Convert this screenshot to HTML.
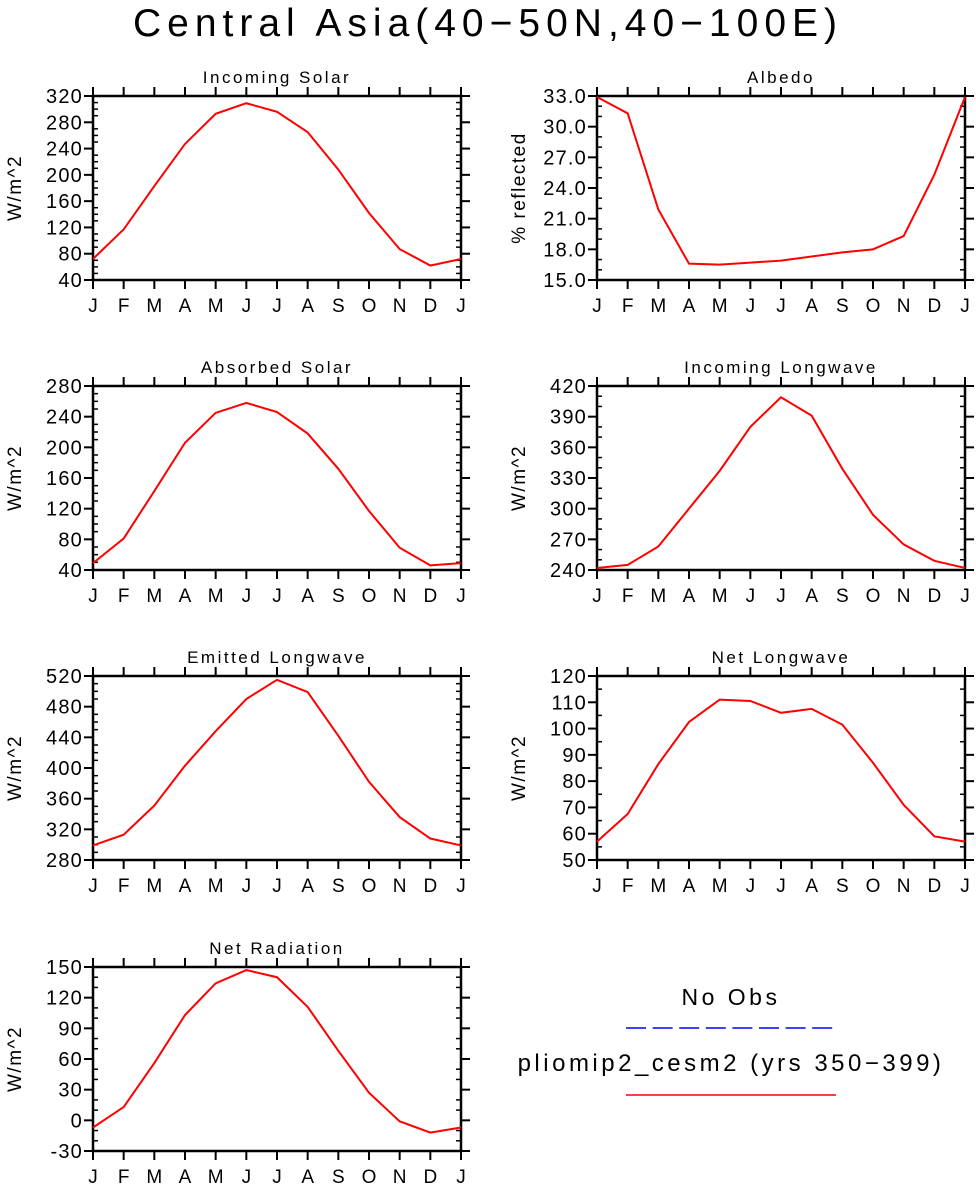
<!DOCTYPE html>
<html><head><meta charset="utf-8"><style>
html,body{margin:0;padding:0;background:#fff;}
svg{display:block;font-family:"Liberation Sans",sans-serif;}
</style></head><body>
<svg id="chart" width="976" height="1189" viewBox="0 0 976 1189">
<text x="488" y="36" text-anchor="middle" font-size="39" letter-spacing="6" fill="#000">Central Asia(40−50N,40−100E)</text>
<g>
<text x="731" y="1005" text-anchor="middle" font-size="23" letter-spacing="3.5">No Obs</text>
<line x1="626" y1="1028" x2="836" y2="1028" stroke="#0000ff" stroke-width="1.5" stroke-dasharray="20,6.6"/>
<text x="731" y="1071" text-anchor="middle" font-size="24" letter-spacing="3.5">pliomip2_cesm2 (yrs 350−399)</text>
<line x1="626" y1="1095" x2="836" y2="1095" stroke="#ff0000" stroke-width="1.5"/>
</g>
</svg>
<script>
const months = ["J","F","M","A","M","J","J","A","S","O","N","D","J"];
const incomingSolar = [72,117,183,247,293,309,296,265,208,142,87,62,72];
const albedo = [32.9,31.3,21.9,16.6,16.5,16.7,16.9,17.3,17.7,18.0,19.3,25.3,32.9];
const absorbedSolar = [49,81,143,206,245,258,246,218,172,117,69,46,49];
const incomingLW = [242,245,263,300,337,380,409,391,339,294,265,249,242];
const emittedLW = [299,313,351,403,448,490,515,499,442,382,336,308,299];
const netLW = [57,67.5,86.5,102.5,111,110.5,106,107.5,101.5,87,71,59,57];
const netRad = [-7,13,56,103,134,147,140,111,68,27,-1,-12,-7];
const ticksIS = [40,80,120,160,200,240,280,320];
const ticksAlb = [15,18,21,24,27,30,33];
const ticksAS = [40,80,120,160,200,240,280];
const ticksILW = [240,270,300,330,360,390,420];
const ticksELW = [280,320,360,400,440,480,520];
const ticksNLW = [50,60,70,80,90,100,110,120];
const ticksNR = [-30,0,30,60,90,120,150];

const NS="http://www.w3.org/2000/svg";
const svg=document.getElementById('chart');
function mk(tag,attrs,parent){const e=document.createElementNS(NS,tag);for(const k in attrs)e.setAttribute(k,attrs[k]);(parent||svg).appendChild(e);return e;}

function panel(name,title,ylab,x0,y0,vals,ticks,dec,minor){
  const w=368,h=184;
  const g=mk('g',{});
  
  
  const lo=ticks[0],hi=ticks[ticks.length-1];
  const xs=i=>x0+i*w/12;
  const ys=v=>y0+h-(v-lo)/(hi-lo)*h;
  const t=mk('text',{x:x0+w/2,y:y0-13,'text-anchor':'middle','font-size':17,'letter-spacing':'2.5'},g);
  t.textContent=title;
  
  
  const yl=mk('text',{x:0,y:0,'text-anchor':'middle','font-size':19,'letter-spacing':'1.5',transform:`translate(${x0-72},${y0+h/2}) rotate(-90)`},g);
  yl.textContent=ylab;
  
  
  ticks.forEach(v=>{
    const y=ys(v);
    mk('line',{x1:x0-9,y1:y,x2:x0,y2:y,stroke:'#000','stroke-width':2},g);
    mk('line',{x1:x0+w,y1:y,x2:x0+w+9,y2:y,stroke:'#000','stroke-width':2},g);
    const l=mk('text',{x:x0-10,y:y+7,'text-anchor':'end','font-size':20,'letter-spacing':'1.2'},g);
    l.textContent=dec?v.toFixed(1):String(v);
    
    
  });
  const step=ticks[1]-ticks[0];
  for(let i=0;i<ticks.length-1;i++){for(let k=1;k<=minor;k++){
    const y=ys(ticks[i]+step*k/(minor+1));
    mk('line',{x1:x0,y1:y,x2:x0+5,y2:y,stroke:'#000','stroke-width':1.5},g);
    mk('line',{x1:x0+w-5,y1:y,x2:x0+w,y2:y,stroke:'#000','stroke-width':1.5},g);
  }}
  months.forEach((m,i)=>{
    const x=xs(i);
    mk('line',{x1:x,y1:y0-9,x2:x,y2:y0,stroke:'#000','stroke-width':2},g);
    mk('line',{x1:x,y1:y0+h,x2:x,y2:y0+h+9,stroke:'#000','stroke-width':2},g);
    const l=mk('text',{x:x,y:y0+h+32,'text-anchor':'middle','font-size':19},g);
    l.textContent=m;
    
    
  });
  const fr=mk('rect',{x:x0,y:y0,width:w,height:h,fill:'none',stroke:'#000','stroke-width':2.5},g);
  
  
  const pts=vals.map((v,i)=>xs(i)+','+ys(v)).join(' ');
  const pl=mk('polyline',{points:pts,fill:'none',stroke:'#ff0000','stroke-width':2},g);
  
  
}
panel('incoming-solar','Incoming Solar','W/m^2',93,96,incomingSolar,ticksIS,false,3);
panel('albedo','Albedo','% reflected',597,96,albedo,ticksAlb,true,2);
panel('absorbed-solar','Absorbed Solar','W/m^2',93,386,absorbedSolar,ticksAS,false,3);
panel('incoming-longwave','Incoming Longwave','W/m^2',597,386,incomingLW,ticksILW,false,2);
panel('emitted-longwave','Emitted Longwave','W/m^2',93,676,emittedLW,ticksELW,false,3);
panel('net-longwave','Net Longwave','W/m^2',597,676,netLW,ticksNLW,false,1);
panel('net-radiation','Net Radiation','W/m^2',93,967,netRad,ticksNR,false,2);
</script>
</body></html>
